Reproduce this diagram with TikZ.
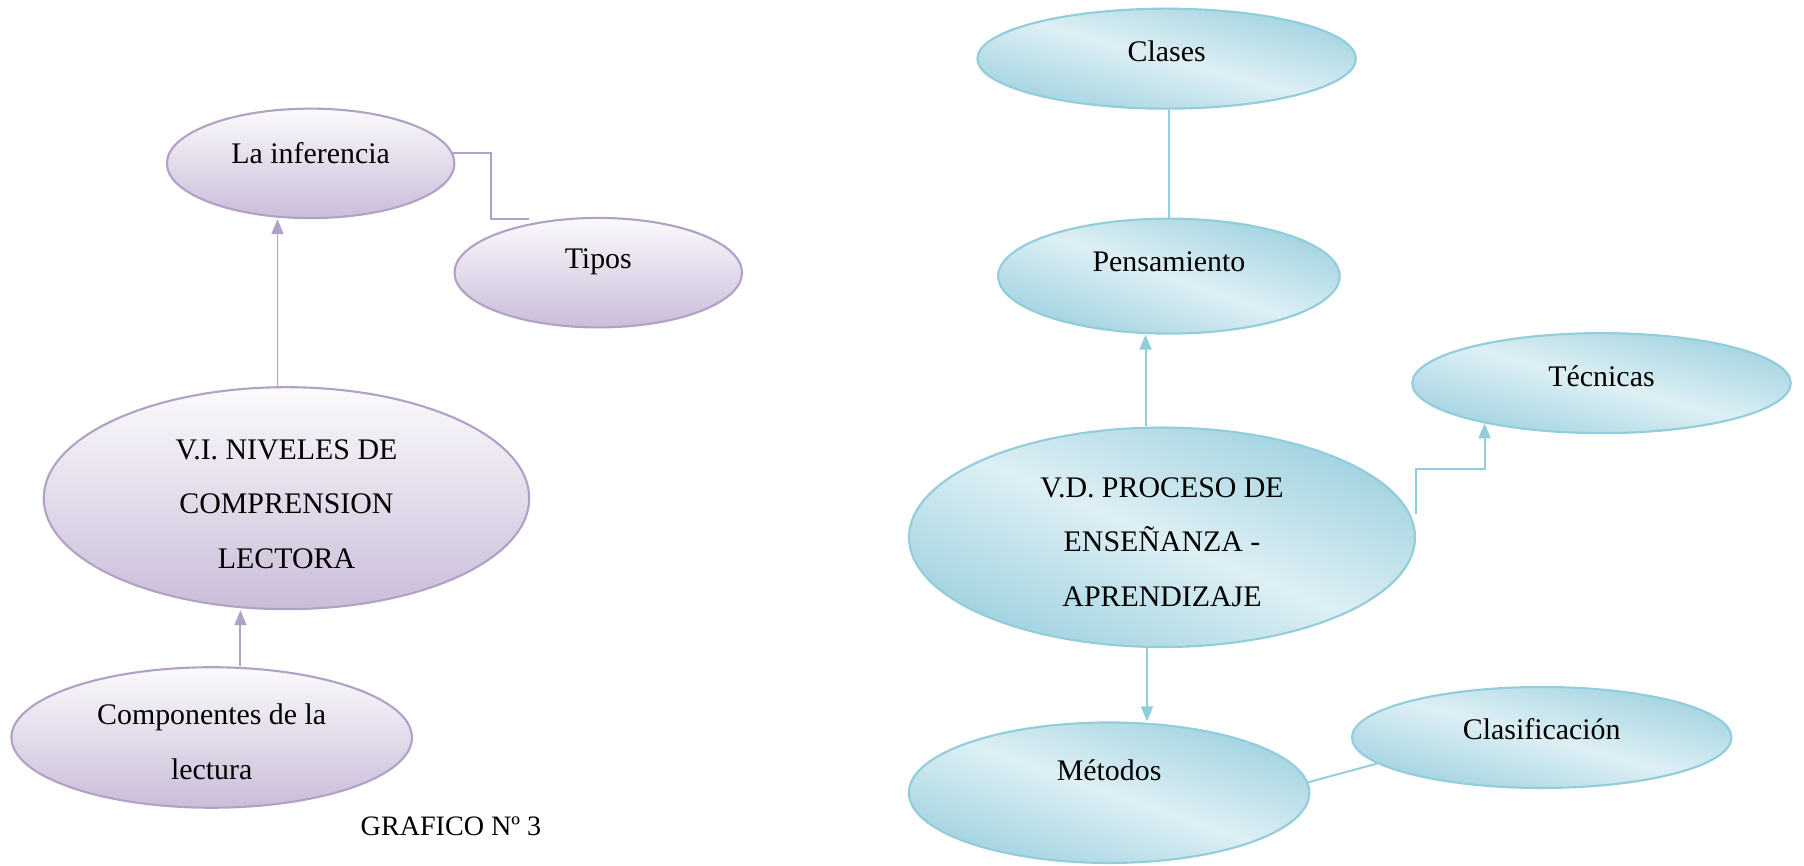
\documentclass[tikz,border=0pt]{standalone}
\usepackage{fontspec}
\setmainfont{Liberation Serif}
\usetikzlibrary{shapes.geometric,arrows.meta}
\definecolor{lilaline}{HTML}{B2A1C7}
\definecolor{lilatop}{HTML}{FBFAFC}
\definecolor{lilabot}{HTML}{CABDD9}
\definecolor{azulline}{HTML}{92CDDC}
\definecolor{azuldark}{HTML}{A0D2E0}
\definecolor{azullight}{HTML}{DDEFF4}

\begin{document}
\begin{tikzpicture}[x=0.02301cm,y=-0.02301cm,
    font=\fontsize{17}{31}\selectfont,
    lila/.style={ellipse,draw=lilaline,line width=1.2pt,inner sep=0pt,
      top color=lilatop,bottom color=lilabot},
    azul/.style={ellipse,draw=azulline,line width=1.2pt,inner sep=0pt,
      top color=azuldark,bottom color=azuldark,middle color=azullight,shading angle=#1},
    azul/.default=-18,
    lilaarrow/.style={draw=lilaline,line width=1.1pt,-{Triangle[length=0.3cm,width=0.24cm]}},
    lilaline/.style={draw=lilaline,line width=1.1pt},
    azularrow/.style={draw=azulline,line width=1.1pt,-{Triangle[length=0.3cm,width=0.24cm]}},
    azulline/.style={draw=azulline,line width=1.1pt},
    txt/.style={align=center}]
  \useasboundingbox (0,0) rectangle (1568,752);

  \node[lila,minimum width=5.75cm,minimum height=2.19cm,
    label={[yshift=0.21cm]center:La inferencia}] (inferencia) at (270,142) {};
  \node[lila,minimum width=5.75cm,minimum height=2.19cm,
    label={[yshift=0.21cm]center:Tipos}] (tipos) at (520,237) {};
  \node[lila,minimum width=9.71cm,minimum height=4.44cm,
    label={[txt,yshift=-0.12cm]center:V.I. NIVELES DE\\COMPRENSION\\LECTORA}] (niveles) at (249,433) {};
  \node[lila,minimum width=8.01cm,minimum height=2.81cm,
    label={[txt,yshift=-0.09cm]center:Componentes de la\\lectura}] (componentes) at (184,641) {};
  \node[font=\fontsize{16}{19}\selectfont] (grafico) at (392,718) {GRAFICO Nº 3};

  \node[azul=-15,minimum width=7.57cm,minimum height=2.0cm,
    label={[yshift=0.14cm]center:Clases}] (clases) at (1014,51) {};
  \node[azul=-19,minimum width=6.83cm,minimum height=2.3cm,
    label={[yshift=0.28cm]center:Pensamiento}] (pensamiento) at (1016,240) {};
  \node[azul=-15,minimum width=7.57cm,minimum height=2.0cm,
    label={[yshift=0.14cm]center:Técnicas}] (tecnicas) at (1392,333) {};
  \node[azul=-23,minimum width=10.12cm,minimum height=4.39cm,
    label={[txt,yshift=-0.09cm]center:V.D. PROCESO DE\\ENSEÑANZA -\\APRENDIZAJE}] (vd) at (1010,467) {};
  \node[azul=-19,minimum width=8.01cm,minimum height=2.81cm,
    label={[yshift=0.44cm]center:Métodos}] (metodos) at (964,689) {};
  \node[azul=-15,minimum width=7.59cm,minimum height=2.02cm,
    label={[yshift=0.16cm]center:Clasificación}] (clasificacion) at (1340,641) {};

  \coordinate (tipos-in) at (460,190);
  \draw[lilaarrow] ([xshift=-0.18cm]niveles.north) -- ([xshift=-0.18cm]niveles.north |- inferencia.south);
  \draw[lilaarrow] ([xshift=0.575cm]componentes.north) -- ([xshift=0.575cm]componentes.north |- niveles.south);
  \draw[lilaline] (inferencia.4) -| ([xshift=-0.76cm]tipos-in) -- (tipos-in);

  \draw[azulline] (pensamiento.north |- clases.south) -- (pensamiento.north);
  \draw[azularrow] ([xshift=-0.33cm]vd.north) -- ([xshift=-0.33cm]vd.north |- pensamiento.south);
  \draw[azularrow] ([yshift=0.46cm]vd.east) -- ++(0,0.9cm) -| (tecnicas.199);
  \draw[azularrow] ([xshift=-0.3cm]vd.south) -- ([xshift=-0.3cm]vd.south |- metodos.north);
  \draw[azulline] (metodos.3) -- (clasificacion.189);
\end{tikzpicture}
\end{document}
